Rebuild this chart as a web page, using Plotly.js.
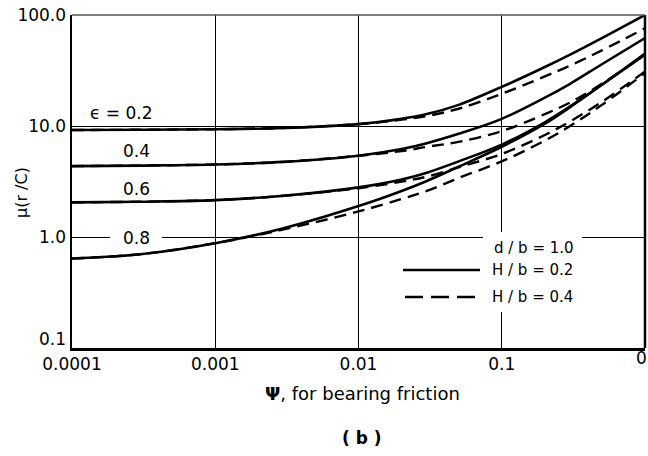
<!DOCTYPE html>
<html>
<head>
<meta charset="utf-8">
<script src="https://cdn.plot.ly/plotly-3.0.1.min.js"></script>
<style>html,body{margin:0;padding:0;background:#fff;}#chart{width:648px;height:456px;}</style>
</head>
<body>
<div id="chart"></div>
<script>
// Psi values (x)
const psi = [0.0001, 0.0003, 0.001, 0.003, 0.01, 0.02, 0.03, 0.05, 0.1, 0.2, 0.3, 0.5, 1.0];
// mu(r/C) values, H/b = 0.2 (solid) and H/b = 0.4 (dashed)
const e02_h02 = [9.2, 9.25, 9.35, 9.6, 10.4, 11.6, 12.8, 15.5, 22.5, 34, 44, 62, 100];
const e02_h04 = [9.2, 9.25, 9.35, 9.6, 10.4, 11.4, 12.3, 14.3, 19.5, 28, 35, 48, 76];
const e04_h02 = [4.35, 4.4, 4.5, 4.75, 5.4, 6.2, 7.0, 8.5, 11.6, 18, 24, 36, 62];
const e04_h04 = [4.35, 4.4, 4.5, 4.75, 5.4, 5.95, 6.5, 7.2, 9.0, 12.8, 16.3, 24, 44];
const e06_h02 = [2.05, 2.08, 2.15, 2.35, 2.8, 3.3, 3.8, 4.8, 6.8, 10.8, 15, 23.5, 45];
const e06_h04 = [2.05, 2.08, 2.15, 2.35, 2.75, 3.15, 3.5, 4.25, 5.6, 8.3, 11, 16.5, 31];
const e08_h02 = [0.64, 0.7, 0.88, 1.2, 1.9, 2.6, 3.2, 4.3, 6.5, 10.5, 14.8, 23.5, 44];
const e08_h04 = [0.64, 0.7, 0.88, 1.17, 1.7, 2.2, 2.6, 3.4, 4.8, 7.4, 10, 15.5, 30];

const xTickVals = [0.0001, 0.001, 0.01, 0.1, 1];
const xTickText = ['0.0001', '0.001', '0.01', '0.1', ''];
const xLastTick = '0';
const yTickVals = [0.1, 1, 10, 100];
const yTickText = ['', '1.0', '10.0', '100.0'];
const yFirstTick = '0.1';

const curveLabels = ['\u03f5 = 0.2', '0.4', '0.6', '0.8'];
const legendTitle = 'd / b = 1.0';
const legendSolid = 'H / b = 0.2';
const legendDashed = 'H / b = 0.4';

const FONT = 'DejaVu Sans, Arial, sans-serif';
const solid = {color: '#000', width: 2.6, shape: 'spline', smoothing: 1};
const dashed = {color: '#000', width: 2.4, shape: 'spline', smoothing: 1, dash: '12px,7px'};

function tr(y, line) {
  return {x: psi, y: y, type: 'scatter', mode: 'lines', line: line, hoverinfo: 'skip', showlegend: false};
}
const data = [
  tr(e02_h04, dashed), tr(e04_h04, dashed), tr(e06_h04, dashed), tr(e08_h04, dashed),
  tr(e02_h02, solid), tr(e04_h02, solid), tr(e06_h02, solid), tr(e08_h02, solid)
];

// pixel -> paper helpers (plot area: x 72..645, y 15..348)
const L = 72, R = 645, T = 15, B = 348;
const px = v => (v - L) / (R - L);
const py = v => (B - v) / (B - T);

const shapes = [
  // gaps in the grid
  {type: 'rect', xref: 'paper', yref: 'paper', x0: px(110), x1: px(162), y0: py(241), y1: py(234), fillcolor: '#fff', line: {width: 0}},
  {type: 'rect', xref: 'paper', yref: 'paper', x0: px(483), x1: px(582), y0: py(312), y1: py(232), fillcolor: '#fff', line: {width: 0}},
  // frame right and top
  {type: 'line', xref: 'paper', yref: 'paper', x0: 1, x1: 1, y0: 0, y1: 1, line: {color: '#000', width: 2.5}},
  {type: 'line', xref: 'paper', yref: 'paper', x0: 0, x1: 1, y0: 1, y1: 1, line: {color: '#555', width: 1.5}},
  // legend samples
  {type: 'line', xref: 'paper', yref: 'paper', x0: px(403), x1: px(480), y0: py(270), y1: py(270), line: {color: '#000', width: 2.5}},
  {type: 'line', xref: 'paper', yref: 'paper', x0: px(405), x1: px(479), y0: py(297), y1: py(297), line: {color: '#000', width: 2.5, dash: '18px,8px'}}
];

function ann(text, x, y, size, extra) {
  return Object.assign({text: text, xref: 'paper', yref: 'paper', x: px(x), y: py(y), showarrow: false,
    xanchor: 'center', yanchor: 'middle', font: {family: FONT, size: size, color: '#000'}}, extra || {});
}
const annotations = [
  ann(curveLabels[0], 121, 113, 17),
  ann(curveLabels[1], 136, 151, 17),
  ann(curveLabels[2], 136, 189, 17),
  ann(curveLabels[3], 136, 238, 17),
  ann(legendTitle, 533, 248, 15, {xanchor: 'left', x: px(492)}),
  ann(legendSolid, 533, 270, 15, {xanchor: 'left', x: px(490)}),
  ann(legendDashed, 533, 297, 15, {xanchor: 'left', x: px(490)}),
  ann(xLastTick, 641, 358, 17),
  ann(yFirstTick, 67, 339, 17, {xanchor: 'right', borderpad: 0}),
  ann('\u03bc(r /C)', 22, 193, 16, {textangle: -90}),
  ann('<b>\u03a8</b>, for bearing friction', 362, 393, 18),
  ann('<b>( b )</b>', 362, 438, 17)
];

const axisCommon = {
  type: 'log', showgrid: true, gridcolor: '#000', gridwidth: 1,
  showline: true, linecolor: '#000', linewidth: 2.5, zeroline: false,
  ticks: '', tickfont: {family: FONT, size: 17, color: '#000'}, tickmode: 'array'
};

const layout = {
  width: 648, height: 456,
  margin: {l: L, r: 648 - R, t: T, b: 456 - B},
  paper_bgcolor: '#fff', plot_bgcolor: '#fff',
  xaxis: Object.assign({}, axisCommon, {range: [-4, 0], tickvals: xTickVals, ticktext: xTickText, ticklabelstandoff: -1}),
  yaxis: Object.assign({}, axisCommon, {range: [-1, 2], tickvals: yTickVals, ticktext: yTickText}),
  shapes: shapes,
  annotations: annotations,
  showlegend: false
};

Plotly.newPlot('chart', data, layout, {staticPlot: true, displayModeBar: false});
</script>
</body>
</html>
